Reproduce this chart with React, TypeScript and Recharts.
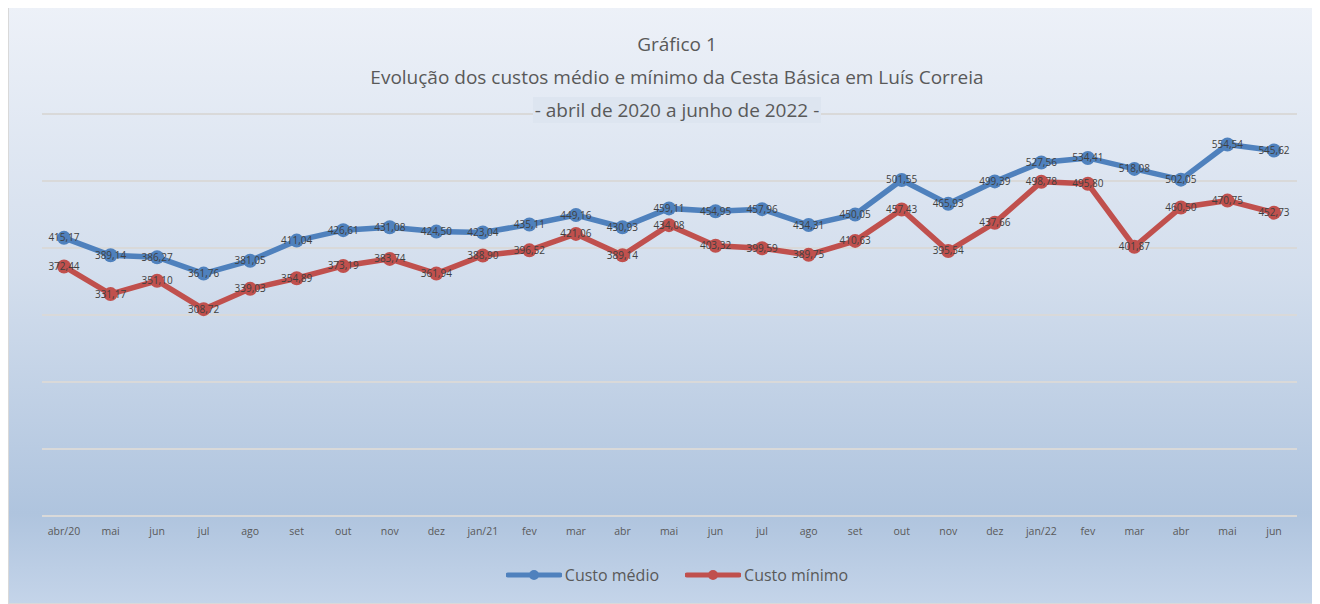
import React from "react"
import { LineChart, Line, XAxis, YAxis, CartesianGrid, Legend, LabelList } from "recharts"

const months = [
  "abr/20", "mai", "jun", "jul", "ago", "set", "out", "nov", "dez",
  "jan/21", "fev", "mar", "abr", "mai", "jun", "jul", "ago", "set", "out", "nov", "dez",
  "jan/22", "fev", "mar", "abr", "mai", "jun",
]

const custoMedio = [
  415.17, 389.14, 386.27, 361.76, 381.05, 411.04, 426.61, 431.08, 424.5,
  423.04, 435.11, 449.16, 430.93, 459.11, 454.95, 457.96, 434.31, 450.05, 501.55, 465.93, 499.39,
  527.56, 534.41, 518.08, 502.05, 554.54, 545.62,
]

const custoMinimo = [
  372.44, 331.17, 351.1, 308.72, 339.03, 354.89, 373.19, 383.74, 361.94,
  388.9, 396.52, 421.06, 389.14, 434.08, 403.32, 399.59, 389.75, 410.63, 457.43, 395.54, 437.66,
  498.78, 495.8, 401.87, 460.5, 470.75, 452.73,
]

const yTicks = [0, 100, 200, 300, 400, 500, 600]

const BLUE = "#4f81bd"
const RED = "#c0504d"
const FONT = "'Open Sans', sans-serif"

const data = months.map((m, i) => ({ idx: i, month: m, medio: custoMedio[i], minimo: custoMinimo[i] }))

const fmt = (v: number) => v.toFixed(2).replace(".", ",")

const CenterLabel = (props: any) => {
  const { x, y, value } = props
  return (
    <text x={x} y={y} dy="0.35em" textAnchor="middle" fontSize={10} fontFamily={FONT} fill="#404040">
      {fmt(value)}
    </text>
  )
}

const LegendContent = () => {
  const items = [
    { label: "Custo médio", color: BLUE },
    { label: "Custo mínimo", color: RED },
  ]
  return (
    <div style={{ display: "flex", justifyContent: "center", gap: 26, fontFamily: FONT }}>
      {items.map((it) => (
        <div key={it.label} style={{ display: "flex", alignItems: "center", gap: 3 }}>
          <svg width={56} height={14}>
            <line x1={2} y1={7} x2={54} y2={7} stroke={it.color} strokeWidth={5} strokeLinecap="round" />
            <circle cx={28} cy={7} r={5} fill={it.color} />
          </svg>
          <span style={{ fontSize: 16, color: "#595959" }}>{it.label}</span>
        </div>
      ))}
    </div>
  )
}

export default function App() {
  return (
    <div style={{
      position: "relative", width: 1308, height: 599, marginTop: -3,
      boxSizing: "border-box", border: "1px solid #d9d9d9",
      background: "linear-gradient(180deg, #edf1f8 0%, #d3deed 45%, #afc4de 85%, #c4d4e9 100%)",
    }}>
      {/* title */}
      <div style={{
        position: "absolute", left: 0, top: 22, width: 1336, textAlign: "center",
        fontFamily: FONT, fontSize: 19, color: "#595959", lineHeight: "33px", zIndex: 2,
        pointerEvents: "none",
      }}>
        <div>Gráfico 1</div>
        <div>Evolução dos custos médio e mínimo da Cesta Básica em Luís Correia</div>
        <div><span style={{ background: "#dde5f0", padding: "0 2px" }}>- abril de 2020 a junho de 2022 -</span></div>
      </div>

      <LineChart width={1306} height={597} data={data} margin={{ top: 108, right: 18, left: 33, bottom: 57 }}>
        <CartesianGrid horizontal vertical={false} stroke="#d9d9d9" strokeWidth={2} />
        <XAxis
          dataKey="idx"
          tickFormatter={(i: number) => months[i]}
          interval={0}
          padding={{ left: 22, right: 23 }}
          tickLine={false}
          axisLine={false}
          height={30}
          tick={{ fontSize: 10.5, fill: "#595959", fontFamily: FONT }}
          tickMargin={6}
        />
        <YAxis hide domain={[0, 600]} ticks={yTicks} />
        <Legend
          verticalAlign="middle"
          layout="horizontal"
          content={<LegendContent />}
          wrapperStyle={{ top: 558, left: 0, width: 1336 }}
        />
        <Line
          type="linear" dataKey="medio" name="Custo médio" stroke={BLUE} strokeWidth={5.5}
          dot={{ r: 7, fill: BLUE, stroke: BLUE, strokeWidth: 0 }} isAnimationActive={false}
        >
          <LabelList dataKey="medio" content={<CenterLabel />} />
        </Line>
        <Line
          type="linear" dataKey="minimo" name="Custo mínimo" stroke={RED} strokeWidth={5.5}
          dot={{ r: 7, fill: RED, stroke: RED, strokeWidth: 0 }} isAnimationActive={false}
        >
          <LabelList dataKey="minimo" content={<CenterLabel />} />
        </Line>
      </LineChart>
    </div>
  )
}
